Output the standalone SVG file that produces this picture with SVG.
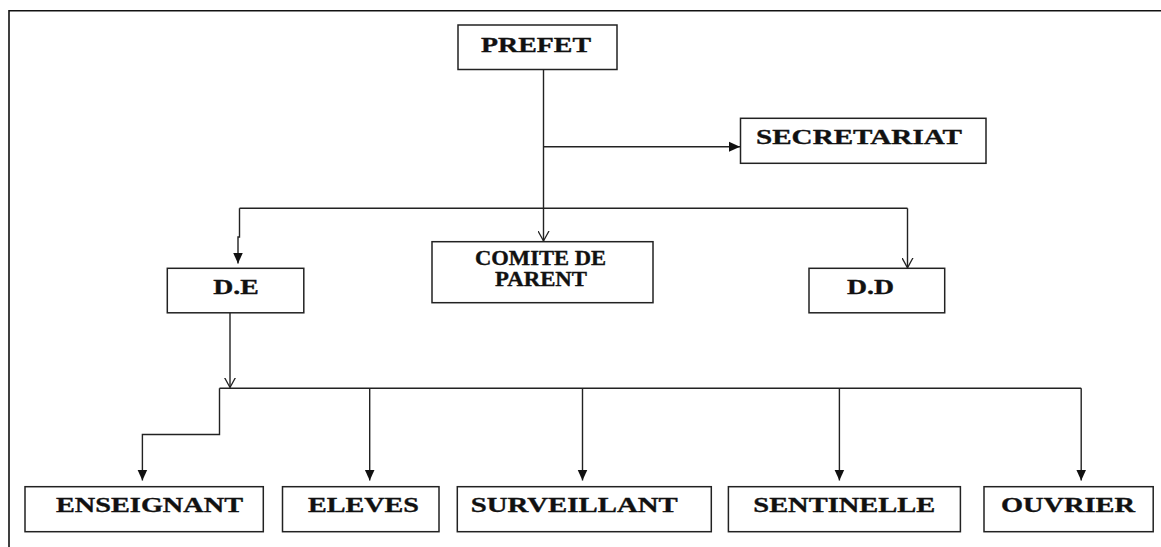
<svg xmlns="http://www.w3.org/2000/svg" width="1161" height="547" viewBox="0 0 1161 547">
  <style>
    .box { fill: #ffffff; stroke: #222222; stroke-width: 1.5; }
    .lbl { font-family: "Liberation Serif", "Times New Roman", serif; font-weight: bold; font-size: 22px; fill: #111111; stroke: #111111; stroke-width: 0.35; }
    .sm { font-size: 20.5px; }
    .wire { fill: none; stroke: #222222; stroke-width: 1.4; }
    .frame { fill: none; stroke: #111111; stroke-width: 1.6; }
  </style>
  <defs>
    <marker id="solid" markerUnits="userSpaceOnUse" markerWidth="12" markerHeight="11" refX="11" refY="5.5" orient="auto" viewBox="0 0 12 11">
      <path d="M0,0.5 L11,5.5 L0,10.5 Z" fill="#111111"/>
    </marker>
    <marker id="open" markerUnits="userSpaceOnUse" markerWidth="12" markerHeight="12" refX="10" refY="6" orient="auto" viewBox="0 0 12 12">
      <path d="M0,0.5 L10,6 L0,11.5" fill="none" stroke="#222222" stroke-width="1.3"/>
    </marker>
  </defs>

  <rect width="1161" height="547" fill="#ffffff"/>
  <path class="frame" d="M9,547 V10.7 H1161"/>

  <g id="connectors">
    <path class="wire" d="M543.5,69.3 V241" marker-end="url(#open)"/>
    <path class="wire" d="M543.5,146.7 H740" marker-end="url(#solid)"/>
    <path class="wire" d="M239.5,208.3 H907.5"/>
    <path class="wire" d="M239.5,208.3 V237 H238 V263.5" marker-end="url(#solid)"/>
    <path class="wire" d="M907.5,208.3 V267.8" marker-end="url(#open)"/>
    <path class="wire" d="M230,313 V387.5" marker-end="url(#open)"/>
    <path class="wire" d="M219.5,388.3 H1081.2"/>
    <path class="wire" d="M219.5,388.3 V434.5 H142.4 V480.5" marker-end="url(#solid)"/>
    <path class="wire" d="M369.7,388.3 V480.5" marker-end="url(#solid)"/>
    <path class="wire" d="M582.5,388.3 V480.5" marker-end="url(#solid)"/>
    <path class="wire" d="M839.4,388.3 V480.5" marker-end="url(#solid)"/>
    <path class="wire" d="M1081.2,388.3 V480.5" marker-end="url(#solid)"/>
  </g>

  <g id="prefet">
    <rect class="box" x="458" y="25" width="159" height="44.5"/>
    <text class="lbl" x="481" y="51.5" textLength="110" lengthAdjust="spacingAndGlyphs">PREFET</text>
  </g>
  <g id="secretariat">
    <rect class="box" x="740.5" y="118.3" width="245.5" height="45"/>
    <text class="lbl" x="756" y="143.5" textLength="206" lengthAdjust="spacingAndGlyphs">SECRETARIAT</text>
  </g>
  <g id="comite">
    <rect class="box" x="432" y="241.7" width="221" height="61"/>
    <text class="lbl sm" x="475" y="265" textLength="131" lengthAdjust="spacingAndGlyphs">COMITE DE</text>
    <text class="lbl sm" x="495" y="285.7" textLength="92" lengthAdjust="spacingAndGlyphs">PARENT</text>
  </g>
  <g id="de">
    <rect class="box" x="167.3" y="268.3" width="136.5" height="44.5"/>
    <text class="lbl" x="213.3" y="293.5" textLength="45.5" lengthAdjust="spacingAndGlyphs">D.E</text>
  </g>
  <g id="dd">
    <rect class="box" x="809" y="268.3" width="135.7" height="44.5"/>
    <text class="lbl" x="847" y="293.5" textLength="47" lengthAdjust="spacingAndGlyphs">D.D</text>
  </g>

  <g id="enseignant">
    <rect class="box" x="25" y="486.7" width="238.3" height="45"/>
    <text class="lbl" x="56" y="511.7" textLength="187" lengthAdjust="spacingAndGlyphs">ENSEIGNANT</text>
  </g>
  <g id="eleves">
    <rect class="box" x="282.5" y="486.7" width="156.5" height="45"/>
    <text class="lbl" x="308" y="511.7" textLength="111" lengthAdjust="spacingAndGlyphs">ELEVES</text>
  </g>
  <g id="surveillant">
    <rect class="box" x="457.3" y="486.7" width="254" height="45"/>
    <text class="lbl" x="470.7" y="511.7" textLength="207" lengthAdjust="spacingAndGlyphs">SURVEILLANT</text>
  </g>
  <g id="sentinelle">
    <rect class="box" x="728.4" y="486.7" width="232" height="45"/>
    <text class="lbl" x="753.3" y="511.7" textLength="182" lengthAdjust="spacingAndGlyphs">SENTINELLE</text>
  </g>
  <g id="ouvrier">
    <rect class="box" x="984" y="486.7" width="169.2" height="45"/>
    <text class="lbl" x="1001" y="511.7" textLength="134" lengthAdjust="spacingAndGlyphs">OUVRIER</text>
  </g>
</svg>
